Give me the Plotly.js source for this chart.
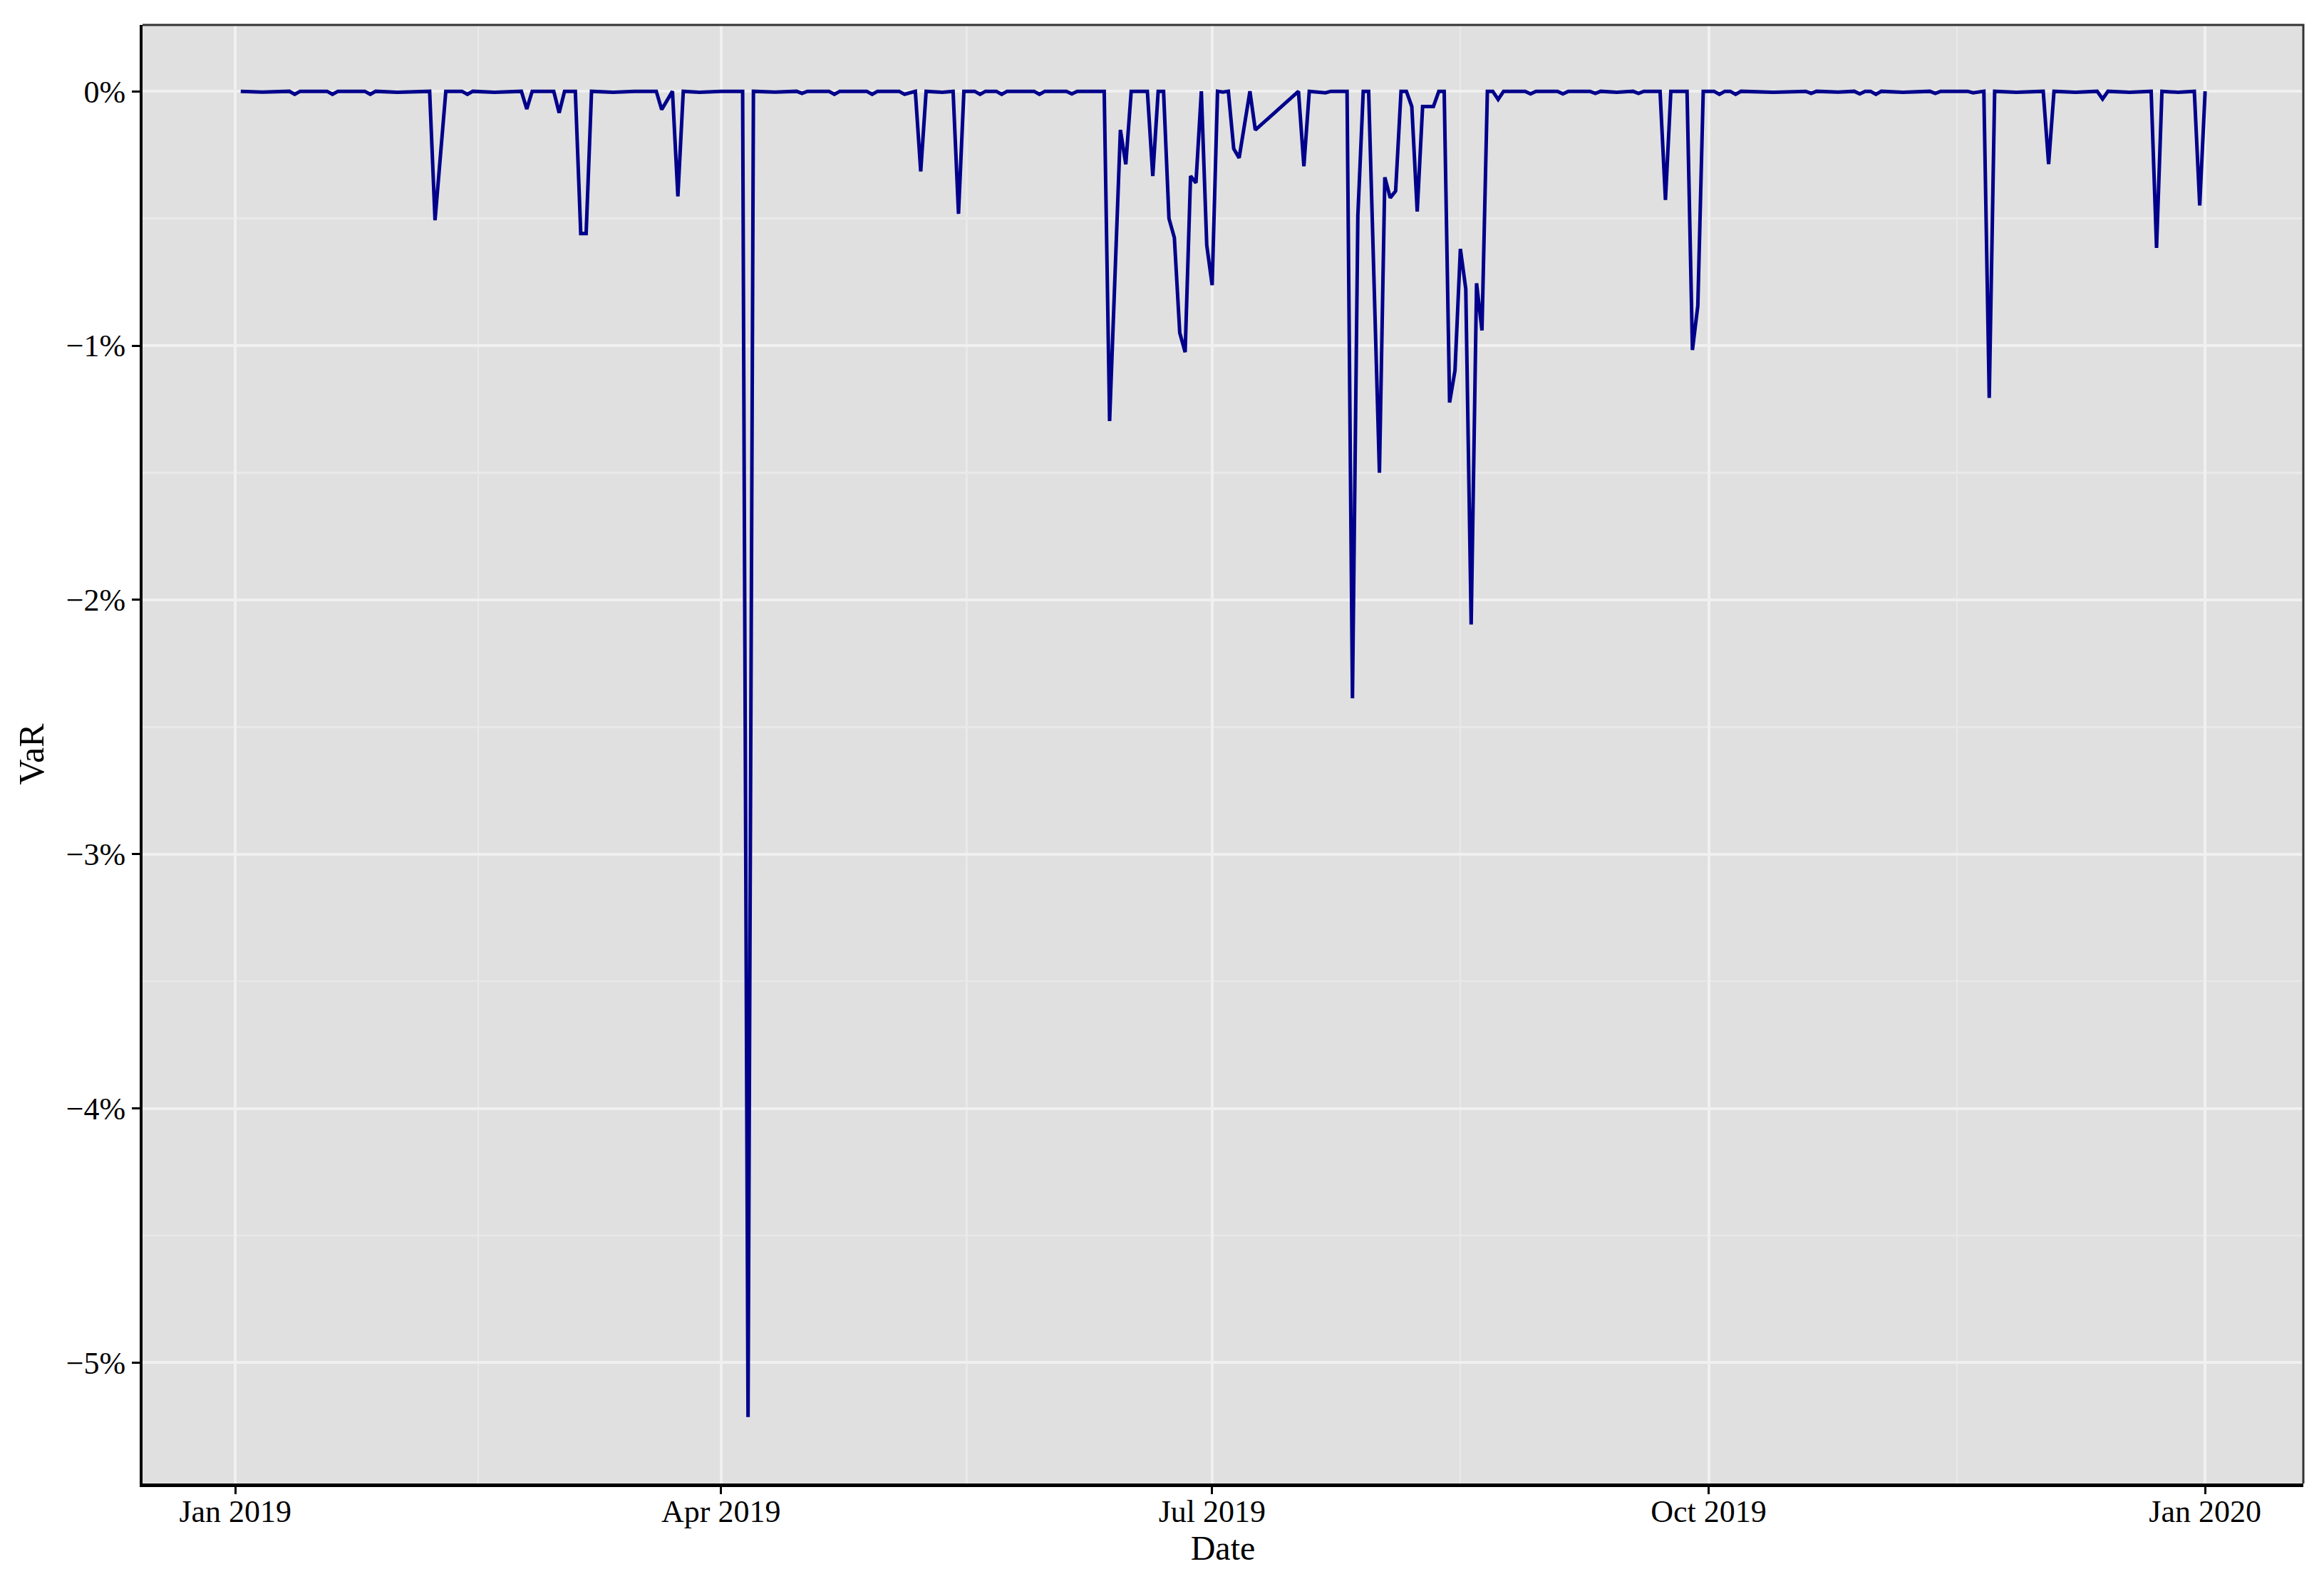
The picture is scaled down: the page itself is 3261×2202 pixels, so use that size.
<!DOCTYPE html>
<html>
<head>
<meta charset="utf-8">
<script src="https://cdn.plot.ly/plotly-3.0.1.min.js"></script>
<style>html,body{margin:0;padding:0;background:#ffffff}#chart{width:3261px;height:2202px}</style>
</head>
<body>
<div id="chart"></div>
<script>
// Dates and VaR values (in percent)
const dates = [
'2019-01-02','2019-01-06','2019-01-11','2019-01-12','2019-01-13','2019-01-18','2019-01-19','2019-01-20',
'2019-01-25','2019-01-26','2019-01-27','2019-01-31','2019-02-06','2019-02-07','2019-02-09','2019-02-12',
'2019-02-13','2019-02-14','2019-02-18','2019-02-23','2019-02-24','2019-02-25','2019-03-01','2019-03-02',
'2019-03-03','2019-03-05','2019-03-06','2019-03-07','2019-03-08','2019-03-12','2019-03-16','2019-03-20',
'2019-03-21','2019-03-23','2019-03-24','2019-03-25','2019-03-28','2019-04-01','2019-04-05','2019-04-06',
'2019-04-07','2019-04-11','2019-04-15','2019-04-16','2019-04-17','2019-04-21','2019-04-22','2019-04-23',
'2019-04-28','2019-04-29','2019-04-30','2019-05-04','2019-05-05','2019-05-07','2019-05-08','2019-05-09',
'2019-05-12','2019-05-14','2019-05-15','2019-05-16','2019-05-18','2019-05-19','2019-05-20','2019-05-22',
'2019-05-23','2019-05-24','2019-05-29','2019-05-30','2019-05-31','2019-06-04','2019-06-05','2019-06-06',
'2019-06-11','2019-06-12','2019-06-14','2019-06-15','2019-06-16','2019-06-19','2019-06-20','2019-06-21',
'2019-06-22','2019-06-23','2019-06-24','2019-06-25','2019-06-26','2019-06-27','2019-06-28','2019-06-29',
'2019-06-30','2019-07-01','2019-07-02','2019-07-03','2019-07-04','2019-07-05','2019-07-06','2019-07-08',
'2019-07-09','2019-07-17','2019-07-18','2019-07-19','2019-07-22','2019-07-23','2019-07-26','2019-07-27',
'2019-07-28','2019-07-29','2019-07-30','2019-08-01','2019-08-02','2019-08-03','2019-08-04','2019-08-05',
'2019-08-06','2019-08-07','2019-08-08','2019-08-09','2019-08-11','2019-08-12','2019-08-13','2019-08-14',
'2019-08-15','2019-08-16','2019-08-17','2019-08-18','2019-08-19','2019-08-20','2019-08-21','2019-08-22',
'2019-08-23','2019-08-24','2019-08-28','2019-08-29','2019-08-30','2019-09-03','2019-09-04','2019-09-05',
'2019-09-09','2019-09-10','2019-09-11','2019-09-14','2019-09-17','2019-09-18','2019-09-19','2019-09-22',
'2019-09-23','2019-09-24','2019-09-27','2019-09-28','2019-09-29','2019-09-30','2019-10-02','2019-10-03',
'2019-10-04','2019-10-05','2019-10-06','2019-10-07','2019-10-13','2019-10-19','2019-10-20','2019-10-21',
'2019-10-25','2019-10-28','2019-10-29','2019-10-30','2019-10-31','2019-11-01','2019-11-02','2019-11-06',
'2019-11-11','2019-11-12','2019-11-13','2019-11-18','2019-11-19','2019-11-21','2019-11-22','2019-11-23',
'2019-11-27','2019-12-02','2019-12-03','2019-12-04','2019-12-08','2019-12-12','2019-12-13','2019-12-14',
'2019-12-18','2019-12-22','2019-12-23','2019-12-24','2019-12-27','2019-12-30','2019-12-31','2020-01-01'
];
const varPct = [
0,-0.003,0,-0.012,0,0,-0.012,0,
0,-0.012,0,-0.004,0,-0.507,0,0,
-0.012,0,-0.004,0,-0.07,0,0,-0.085,
0,0,-0.559,-0.559,0,-0.004,0,0,
-0.072,0,-0.413,0,-0.004,0,0,-5.214,
0,-0.003,0,-0.008,0,0,-0.012,0,
0,-0.012,0,0,-0.012,0,-0.315,0,
-0.004,0,-0.482,0,0,-0.012,0,0,
-0.012,0,0,-0.012,0,0,-0.01,0,
0,-1.297,-0.152,-0.287,0,0,-0.333,0,
0,-0.50,-0.576,-0.95,-1.026,-0.333,-0.36,0,
-0.605,-0.762,0,-0.003,0,-0.226,-0.262,0,
-0.152,0,-0.295,0,-0.006,0,0,-2.387,
-0.49,0,0,-1.50,-0.338,-0.419,-0.392,0,
0,-0.06,-0.473,-0.06,-0.06,0,0,-1.224,
-1.098,-0.62,-0.777,-2.097,-0.755,-0.94,0,0,
-0.032,0,0,-0.01,0,0,-0.01,0,
0,-0.008,0,-0.004,0,-0.008,0,0,
-0.427,0,0,-1.017,-0.843,0,0,-0.012,
0,0,-0.012,0,-0.004,0,-0.008,0,
-0.003,0,-0.01,0,0,-0.012,0,-0.004,
0,-0.008,0,0,-0.006,0,-1.206,0,
-0.004,0,-0.286,0,-0.004,0,-0.03,0,
-0.004,0,-0.616,0,-0.004,0,-0.449,0
];

// Axis ticks and labels
const xTickVals = ['2019-01-01','2019-04-01','2019-07-01','2019-10-01','2020-01-01'];
const xTickText = ['Jan 2019','Apr 2019','Jul 2019','Oct 2019','Jan 2020'];
const xMinorVals = ['2019-02-15','2019-05-16 12:00','2019-08-16','2019-11-16'];
const xRange = ['2018-12-14 19:12','2020-01-19 04:48'];
const yTickVals = [0,-1,-2,-3,-4,-5];
const yTickText = ['0%','\u22121%','\u22122%','\u22123%','\u22124%','\u22125%'];
const yMinorVals = [-0.5,-1.5,-2.5,-3.5,-4.5];
const yRange = [-5.475,0.261];

const fontFam = '"Liberation Serif","Times New Roman",serif';

const trace = {
  type: 'scatter',
  mode: 'lines',
  x: dates,
  y: varPct,
  line: {color: '#00008B', width: 5},
  hoverinfo: 'skip'
};

const layout = {
  width: 3261,
  height: 2202,
  margin: {l: 200, r: 29, t: 35, b: 120, pad: 0},
  paper_bgcolor: '#ffffff',
  plot_bgcolor: '#E0E0E0',
  showlegend: false,
  hovermode: false,
  font: {family: fontFam, color: '#000000', size: 44},
  xaxis: {
    type: 'date',
    range: xRange,
    tickmode: 'array',
    tickvals: xTickVals,
    ticktext: xTickText,
    ticks: 'outside',
    ticklen: 10,
    tickwidth: 3,
    tickcolor: '#000000',
    ticklabelstandoff: -14,
    tickfont: {family: fontFam, size: 44, color: '#000000'},
    showgrid: true,
    gridcolor: '#F0F0F0',
    gridwidth: 4,
    minor: {tickmode: 'array', tickvals: xMinorVals, showgrid: true, gridcolor: '#E9E9E9', gridwidth: 2.5, ticks: ''},
    zeroline: false,
    showline: true,
    linecolor: '#000000',
    linewidth: 5,
    title: {text: 'Date', font: {family: fontFam, size: 48, color: '#000000'}, standoff: 0}
  },
  yaxis: {
    range: yRange,
    tickmode: 'array',
    tickvals: yTickVals,
    ticktext: yTickText,
    ticks: 'outside',
    ticklen: 11,
    tickwidth: 3,
    tickcolor: '#000000',
    tickfont: {family: fontFam, size: 44, color: '#000000'},
    showgrid: true,
    gridcolor: '#F0F0F0',
    gridwidth: 4,
    minor: {tickmode: 'array', tickvals: yMinorVals, showgrid: true, gridcolor: '#E9E9E9', gridwidth: 2.5, ticks: ''},
    zeroline: false,
    showline: true,
    linecolor: '#000000',
    linewidth: 4,
    title: {text: 'VaR', font: {family: fontFam, size: 50, color: '#000000'}, standoff: 16}
  },
  shapes: [{
    type: 'path', xref: 'paper', yref: 'paper',
    path: 'M 0 1 L 1 1 L 1 0',
    line: {color: '#333333', width: 3},
    layer: 'above'
  }]
};

Plotly.newPlot('chart', [trace], layout, {displayModeBar: false, staticPlot: true});
</script>
</body>
</html>
